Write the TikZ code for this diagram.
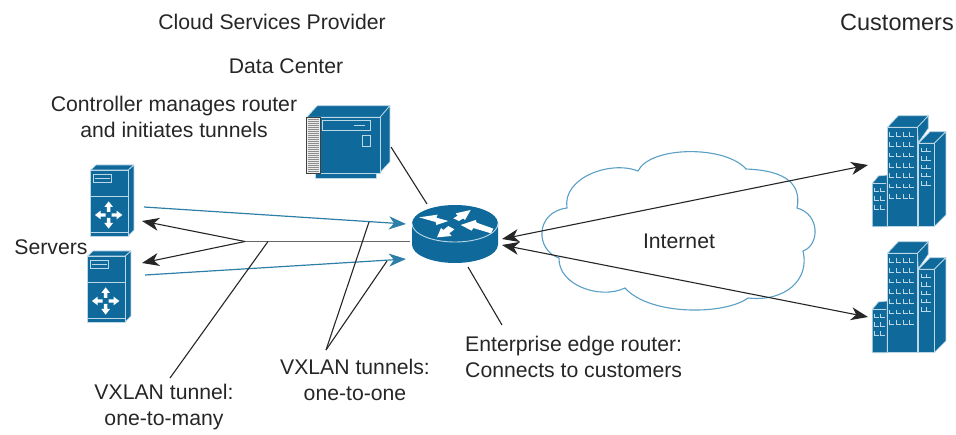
\documentclass[tikz,border=0pt]{standalone}
\usepackage{fontspec}
\setmainfont{Liberation Sans}
\usetikzlibrary{arrows.meta}
\definecolor{ciscob}{HTML}{0F6A9B}
\definecolor{tunnelb}{HTML}{2E7FA8}
\definecolor{cloudb}{HTML}{5A9FC6}
\definecolor{inkc}{HTML}{262626}
\definecolor{lightb}{HTML}{BCD8E6}
\tikzset{
  lbl/.style={font=\fontsize{21.2}{26}\selectfont,text=inkc,align=center,inner sep=0pt},
  lblleft/.style={lbl,align=left},
  wire/.style={draw=inkc,line width=1.1pt},
  tip/.style={-{Stealth[length=17pt,width=13pt,inset=5pt]}},
  dbl/.style={{Stealth[length=17pt,width=13pt,inset=5pt]}-{Stealth[length=17pt,width=13pt,inset=5pt]}},
  blue tunnel/.style={draw=tunnelb,line width=1.2pt,-{Stealth[length=17pt,width=13pt,inset=5pt]}},
  icon/.style={fill=ciscob,draw=lightb,line width=.7pt,line join=round},
  wedge/.style={fill=white},
  pics/serverbox/.style={code={
    \begin{scope}[x=0.3333pt,y=-0.3333pt]
      \path[icon] (272,240) -- (288,225) -- (402,225) -- (385,240) -- cycle;
      \path[icon] (385,240) -- (402,225) -- (402,420) -- (385,438) -- cycle;
      \path[icon] (272,240) rectangle (385,438);
      \draw[lightb,line width=.8pt] (272,320) -- (385,320) (272,426) -- (385,426);
      \draw[lightb,line width=.8pt] (281,253) rectangle (335,277);
      \draw[lightb,line width=.6pt] (285,265) -- (331,265);
      \foreach \a in {0,90,180,270}{
        \begin{scope}[shift={(326,375)},rotate=\a]
          \fill[white] (9,-5) -- (24,-5) -- (24,-13) -- (41,0) -- (24,13) -- (24,5) -- (9,5) -- cycle;
        \end{scope}}
    \end{scope}}},
  pics/tower/.style={code={
    \begin{scope}[x=0.3333pt,y=-0.3333pt]
      \path[icon] (97,250) -- (115,228) -- (142,225) -- (142,380) -- (97,380) -- cycle;
      \draw[lightb,line width=.7pt] (97,250) -- (138,250);
      \path[icon] (232,82) -- (265,47) -- (265,85) -- (235,128) -- cycle;
      \path[icon] (142,82) -- (175,47) -- (265,47) -- (232,82) -- cycle;
      \path[icon] (142,82) rectangle (232,380);
      \path[icon] (235,130) -- (270,95) -- (318,95) -- (283,130) -- cycle;
      \path[icon] (283,130) -- (318,95) -- (318,345) -- (283,380) -- cycle;
      \path[icon] (235,130) rectangle (283,380);
      \foreach \r in {0,1,2,3,4,5,6}{
        \foreach \c in {148,168,190,208}{
          \draw[lightb,line width=.8pt] (\c,{108+\r*31-12}) -- (\c,{108+\r*31}) -- ({\c+15},{108+\r*31});
        }}
      \foreach \r in {0,1,2,3,4}{
        \foreach \c in {243,258}{
          \draw[lightb,line width=.8pt] (\c,{155+\r*25-11}) -- (\c,{155+\r*25}) -- ({\c+14},{155+\r*25});
        }}
      \foreach \r in {0,1,2}{
        \foreach \c in {104,121}{
          \draw[lightb,line width=.8pt] (\c,{275+\r*26-12}) -- (\c,{275+\r*26}) -- ({\c+13},{275+\r*26});
        }}
    \end{scope}}}
}
\begin{document}
\begin{tikzpicture}[x=1pt,y=-1pt]
\useasboundingbox (0,0) rectangle (956,434);
% cloud
\draw[draw=cloudb,line width=1.1pt,fill=white]
  (638,171) .. controls (650,146) and (725,145) .. (746,169)
  .. controls (775,170) and (803,178) .. (797,208)
  .. controls (820,214) and (820,245) .. (803,251)
  .. controls (810,280) and (785,302) .. (748,298)
  .. controls (725,315) and (650,316) .. (625,288)
  .. controls (600,300) and (558,285) .. (559,258)
  .. controls (535,250) and (535,212) .. (567,208)
  .. controls (562,178) and (610,160) .. (638,171) -- cycle;
\node[lbl] (internet) at (679,241) {Internet};
% icons
\begin{scope}[shift={(0,90)}]
  \pic {serverbox};
\end{scope}
\begin{scope}[shift={(-3,176)}]
  \pic {serverbox};
\end{scope}
\begin{scope}[shift={(840,100)}]
  \pic {tower};
\end{scope}
\begin{scope}[shift={(840,226)}]
  \pic {tower};
\end{scope}
% data centre
\begin{scope}[shift={(280,90)},x=0.3333pt,y=-0.3333pt]
  \path[icon] (105,250) rectangle (290,265);
  \path[icon] (80,82) -- (112,47) -- (330,47) -- (300,82) -- cycle;
  \path[icon] (300,82) -- (330,47) -- (330,215) -- (300,248) -- cycle;
  \path[icon] (122,82) rectangle (300,250);
  \draw[lightb,line width=.8pt] (128,90) rectangle (272,122) (246,135) rectangle (270,168);
  \draw[lightb,line width=.8pt] (222,106) -- (255,106);
  \draw[fill=black!8,draw=black!75,line width=1pt] (78,82) rectangle (122,252);
  \foreach \r in {0,...,26}{
    \draw[black!45,line width=.5pt] (84,{89+\r*6}) -- (118,{89+\r*6});
  }
\end{scope}
% router
\path[fill=ciscob] (412,223.5) -- (412,244.5) arc[start angle=180,end angle=360,x radius=43,y radius=-18.5] -- (498,223.5) -- cycle;
\path[fill=ciscob] (455,223.5) ellipse[x radius=43,y radius=18.5];
\draw[lightb,line width=.9pt] (412,223.5) arc[start angle=180,end angle=360,x radius=43,y radius=-18.5];
\begin{scope}[shift={(405,200)},x=0.3333pt,y=-0.3333pt]
  \fill[wedge] (42,52) -- (98,44) -- (94,53) -- (130,63) -- (94,75) -- (92,66) -- cycle;
  \fill[wedge] (197,30) -- (152,40) -- (158,47) -- (145,55) -- (162,63) -- (175,55) -- (180,60) -- cycle;
  \fill[wedge] (265,86) -- (215,68) -- (212,60) -- (167,75) -- (200,92) -- (205,84) -- (258,100) -- cycle;
  \fill[wedge] (96,112) -- (140,108) -- (133,100) -- (148,88) -- (130,78) -- (115,90) -- (108,84) -- cycle;
\end{scope}
% named connector ends
\coordinate (s1a) at (144,207); \coordinate (s1b) at (406,224);
\coordinate (s2a) at (145,275); \coordinate (s2b) at (406,259);
\coordinate (hub) at (245,241.5); \coordinate (rl) at (410,241.5);
\coordinate (s1t) at (142,221); \coordinate (s2t) at (142,263);
\coordinate (dca) at (391,147); \coordinate (dcb) at (427,204);
\coordinate (c1) at (868,165); \coordinate (c2) at (868,317);
\coordinate (r1) at (502,239); \coordinate (r2) at (502,245);
\coordinate (ela) at (468,267); \coordinate (elb) at (502,325);
\coordinate (m1) at (268,241.5); \coordinate (m2) at (170,378);
\coordinate (o0) at (326,350); \coordinate (o1) at (369,222); \coordinate (o2) at (387,261);
% connectors
\draw[blue tunnel] (s1a) -- (s1b);
\draw[blue tunnel] (s2a) -- (s2b);
\draw[draw=inkc!70,line width=1.3pt] (rl) -- (hub);
\draw[wire,tip] (hub) -- (s1t);
\draw[wire,tip] (hub) -- (s2t);
\draw[wire] (dca) -- (dcb);
\draw[wire] (ela) -- (elb);
\draw[wire,dbl] (r1) -- (c1);
\draw[wire,dbl] (r2) -- (c2);
\draw[wire] (m1) -- (m2);
\draw[wire] (o0) -- (o1);
\draw[wire] (o0) -- (o2);
% labels
\node[lbl] (csp) at (272,22) {Cloud Services Provider};
\node[lbl,font=\fontsize{23.5}{26}\selectfont] (cust) at (897,22) {Customers};
\node[lbl] (dc) at (286,66) {Data Center};
\node[lbl] (ctrl) at (174,117) {Controller manages router\\and initiates tunnels};
\node[lbl] (srv) at (51,247) {Servers};
\node[lblleft,anchor=west] (edge) at (465,356.5) {Enterprise edge router:\\Connects to customers};
\node[lbl] (one) at (355,380) {VXLAN tunnels:\\one-to-one};
\node[lbl] (many) at (164,407) {VXLAN tunnel:\\one-to-many};
\end{tikzpicture}
\end{document}
